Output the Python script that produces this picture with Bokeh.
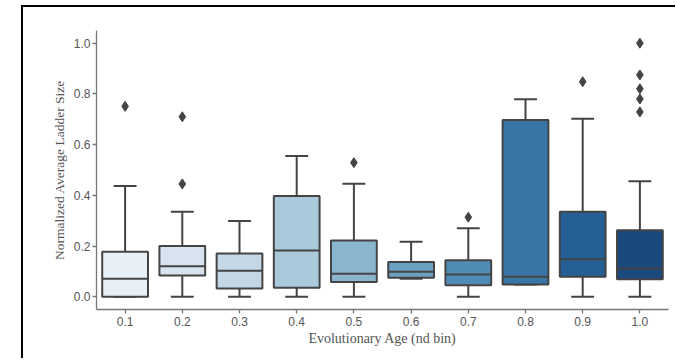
import colorsys
from bokeh.plotting import figure
from bokeh.models import Range1d, FixedTicker, PrintfTickFormatter, ColumnDataSource
from bokeh.embed import file_html
from bokeh.resources import INLINE

# ---- data ----
categories = ["0.1", "0.2", "0.3", "0.4", "0.5", "0.6", "0.7", "0.8", "0.9", "1.0"]
q1 = [0.0, 0.084, 0.033, 0.036, 0.058, 0.075, 0.046, 0.049, 0.079, 0.069]
median = [0.071, 0.121, 0.103, 0.183, 0.091, 0.099, 0.088, 0.079, 0.148, 0.112]
q3 = [0.178, 0.200, 0.171, 0.397, 0.222, 0.137, 0.144, 0.697, 0.335, 0.262]
whisker_low = [0.0, 0.0, 0.0, 0.0, 0.0, 0.071, 0.0, 0.049, 0.0, 0.0]
whisker_high = [0.437, 0.335, 0.299, 0.555, 0.446, 0.217, 0.270, 0.779, 0.702, 0.456]
outlier_cat = ["0.1", "0.2", "0.2", "0.5", "0.7", "0.9", "1.0", "1.0", "1.0", "1.0", "1.0"]
outlier_val = [0.751, 0.710, 0.445, 0.529, 0.314, 0.848, 1.0, 0.875, 0.820, 0.780, 0.729]
yticks = [0.0, 0.2, 0.4, 0.6, 0.8, 1.0]

# ---- palette: seaborn-like "Blues" with 0.75 saturation ----
anchors = ["#f7fbff", "#deebf7", "#c6dbef", "#9ecae1", "#6baed6",
           "#4292c6", "#2171b5", "#08519c", "#08306b"]


def hex2rgb(h):
    return tuple(int(h[i:i + 2], 16) / 255 for i in (1, 3, 5))


def sample(t):
    pos = t * (len(anchors) - 1)
    i = min(int(pos), len(anchors) - 2)
    f = pos - i
    a, b = hex2rgb(anchors[i]), hex2rgb(anchors[i + 1])
    return tuple(a[k] + (b[k] - a[k]) * f for k in range(3))


colors = []
n = len(categories)
for i in range(n):
    r, g, b = sample((i + 1) / (n + 1))
    h, l, s = colorsys.rgb_to_hls(r, g, b)
    r, g, b = colorsys.hls_to_rgb(h, l, s * 0.75)
    colors.append("#%02x%02x%02x" % (round(r * 255), round(g * 255), round(b * 255)))

LINE = "#444444"
xs = list(range(n))

# canvas starts at (23, 7): 21px margin + 2px black border on the left, 5px + 2px on top
p = figure(width=654, height=353, output_backend="svg", toolbar_location=None,
           x_range=Range1d(-0.5, n - 0.5), y_range=Range1d(-0.05, 1.05),
           min_border_left=73, min_border_right=9, min_border_top=23, min_border_bottom=51,
           styles={"margin-left": "21px", "margin-top": "5px",
                   "border-left": "2px solid black", "border-top": "2px solid black"})
p.outline_line_color = None
p.xgrid.visible = False
p.ygrid.visible = False

src = ColumnDataSource(dict(x=xs, q1=q1, q3=q3, med=median, lo=whisker_low, hi=whisker_high,
                            color=colors,
                            cl=[x - 0.2 for x in xs], cr=[x + 0.2 for x in xs],
                            ml=[x - 0.4 for x in xs], mr=[x + 0.4 for x in xs]))

# whiskers
p.segment(x0="x", y0="q3", x1="x", y1="hi", source=src, line_color=LINE, line_width=2)
p.segment(x0="x", y0="q1", x1="x", y1="lo", source=src, line_color=LINE, line_width=2)
# caps
p.segment(x0="cl", y0="hi", x1="cr", y1="hi", source=src, line_color=LINE, line_width=2)
p.segment(x0="cl", y0="lo", x1="cr", y1="lo", source=src, line_color=LINE, line_width=2)
# boxes
p.vbar(x="x", width=0.8, bottom="q1", top="q3", source=src, fill_color="color",
       line_color=LINE, line_width=2)
# medians
p.segment(x0="ml", y0="med", x1="mr", y1="med", source=src, line_color=LINE, line_width=2)
# outliers
p.scatter(x=[categories.index(c) for c in outlier_cat], y=outlier_val, marker="diamond",
          size=10, fill_color=LINE, line_color=LINE)

# axes
for ax in (p.xaxis[0], p.yaxis[0]):
    ax.axis_line_color = "#777777"
    ax.axis_line_width = 1.3
    ax.major_tick_line_color = "#777777"
    ax.major_tick_line_width = 1.3
    ax.major_tick_out = 4
    ax.major_tick_in = 0
    ax.minor_tick_line_color = None
    ax.major_label_text_font = "Liberation Sans"
    ax.major_label_text_font_size = "12px"
    ax.major_label_text_color = "#555555"
    ax.major_label_standoff = 3
    ax.axis_label_text_font = "Liberation Serif"
    ax.axis_label_text_font_style = "normal"
    ax.axis_label_text_color = "#555555"
    ax.axis_label_standoff = 4

p.xaxis.axis_label_text_font_size = "14px"
p.yaxis.axis_label_text_font_size = "13.5px"
p.xaxis.axis_label_standoff = 2
p.yaxis.major_label_standoff = 2
p.xaxis.ticker = FixedTicker(ticks=xs)
p.xaxis.major_label_overrides = {i: c for i, c in enumerate(categories)}
p.yaxis.ticker = FixedTicker(ticks=yticks)
p.yaxis.formatter = PrintfTickFormatter(format="%.1f")
p.xaxis.axis_label = "Evolutionary Age (nd bin)"
p.yaxis.axis_label = "Normalized Average Ladder Size"

open("out.html", "w").write(file_html(p, INLINE))
